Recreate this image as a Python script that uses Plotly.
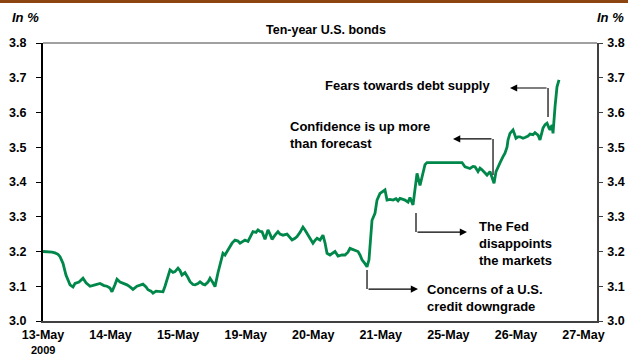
import plotly.graph_objects as go

# Trading-day index (0 = start of 13-May) and 10-year yield (%)
t = [0, 0.074, 0.133, 0.178, 0.222, 0.252, 0.296, 0.340, 0.370, 0.400, 0.444, 0.474, 0.533, 0.592,
     0.637, 0.696, 0.770, 0.844, 0.903, 0.947, 0.992, 1.021, 1.066, 1.095, 1.140, 1.169, 1.243, 1.288,
     1.332, 1.391, 1.436, 1.480, 1.525, 1.554, 1.599, 1.628, 1.673, 1.732, 1.776, 1.806, 1.835, 1.880,
     1.924, 1.954, 1.998, 2.028, 2.057, 2.102, 2.146, 2.176, 2.220, 2.250, 2.294, 2.324, 2.368, 2.398,
     2.442, 2.472, 2.516, 2.546, 2.590, 2.620, 2.664, 2.694, 2.724, 2.768, 2.798, 2.842, 2.886, 2.916,
     2.960, 2.990, 3.034, 3.064, 3.108, 3.153, 3.182, 3.212, 3.242, 3.286, 3.330, 3.360, 3.390, 3.434,
     3.478, 3.508, 3.552, 3.612, 3.656, 3.686, 3.730, 3.760, 3.804, 3.848, 3.878, 3.922, 3.952, 3.996,
     4.026, 4.056, 4.100, 4.144, 4.174, 4.204, 4.248, 4.292, 4.322, 4.367, 4.426, 4.470, 4.514, 4.544,
     4.589, 4.633, 4.663, 4.692, 4.722, 4.766, 4.796, 4.825, 4.855, 4.870, 4.914, 4.944, 4.988, 5.018,
     5.062, 5.092, 5.136, 5.181, 5.225, 5.255, 5.284, 5.329, 5.358, 5.403, 5.432, 5.477, 5.506, 5.536,
     5.580, 5.625, 5.654, 5.684, 5.876, 6.024, 6.202, 6.246, 6.291, 6.320, 6.365, 6.394, 6.439, 6.468,
     6.498, 6.542, 6.572, 6.616, 6.646, 6.676, 6.705, 6.735, 6.764, 6.809, 6.838, 6.868, 6.883, 6.912,
     6.957, 7.001, 7.031, 7.060, 7.105, 7.134, 7.179, 7.208, 7.253, 7.282, 7.327, 7.356, 7.401, 7.431,
     7.460, 7.490, 7.505, 7.534, 7.549, 7.579, 7.608, 7.638]
yld = [3.200, 3.200, 3.198, 3.196, 3.192, 3.185, 3.166, 3.132, 3.115, 3.104, 3.098, 3.108, 3.112, 3.123,
       3.110, 3.100, 3.104, 3.108, 3.102, 3.100, 3.095, 3.084, 3.105, 3.120, 3.112, 3.110, 3.104, 3.098,
       3.091, 3.100, 3.104, 3.106, 3.098, 3.090, 3.086, 3.080, 3.086, 3.084, 3.084, 3.100, 3.118, 3.147,
       3.140, 3.142, 3.152, 3.145, 3.132, 3.139, 3.125, 3.113, 3.105, 3.104, 3.108, 3.113, 3.106, 3.104,
       3.112, 3.123, 3.110, 3.099, 3.139, 3.165, 3.195, 3.190, 3.200, 3.215, 3.224, 3.233, 3.230, 3.224,
       3.230, 3.233, 3.229, 3.240, 3.257, 3.255, 3.262, 3.258, 3.257, 3.235, 3.262, 3.250, 3.235, 3.247,
       3.257, 3.250, 3.247, 3.250, 3.240, 3.233, 3.238, 3.243, 3.255, 3.270, 3.262, 3.247, 3.235, 3.224,
       3.232, 3.238, 3.233, 3.247, 3.225, 3.195, 3.190, 3.195, 3.200, 3.187, 3.190, 3.190, 3.198, 3.209,
       3.205, 3.202, 3.200, 3.190, 3.176, 3.165, 3.156, 3.176, 3.240, 3.290, 3.310, 3.348, 3.367, 3.372,
       3.377, 3.348, 3.350, 3.348, 3.352, 3.346, 3.353, 3.350, 3.348, 3.342, 3.355, 3.334, 3.386, 3.425,
       3.390, 3.425, 3.450, 3.456, 3.456, 3.456, 3.456, 3.444, 3.442, 3.439, 3.445, 3.444, 3.430, 3.440,
       3.435, 3.425, 3.420, 3.430, 3.415, 3.396, 3.430, 3.445, 3.455, 3.473, 3.483, 3.500, 3.521, 3.540,
       3.550, 3.526, 3.530, 3.530, 3.526, 3.528, 3.532, 3.538, 3.536, 3.542, 3.535, 3.521, 3.555, 3.565,
       3.569, 3.555, 3.550, 3.564, 3.540, 3.617, 3.674, 3.694]

day_labels = ["13-May", "14-May", "15-May", "19-May", "20-May",
              "21-May", "25-May", "26-May", "27-May"]
year_label = "2009"
y_ticks = [3.0, 3.1, 3.2, 3.3, 3.4, 3.5, 3.6, 3.7, 3.8]

FONT = "Liberation Sans, Arial, sans-serif"
GREEN = "#00874A"

fig = go.Figure()
fig.add_trace(go.Scatter(x=t, y=yld, mode="lines",
                         line=dict(color=GREEN, width=2.8), showlegend=False,
                         hoverinfo="skip"))
# anchor trace so the right-hand axis is drawn
fig.add_trace(go.Scatter(x=[t[0]], y=[yld[0]], yaxis="y2", mode="markers",
                         marker=dict(opacity=0), showlegend=False, hoverinfo="skip"))

tickfont = dict(family=FONT, size=12.5, color="black", weight="bold")

fig.update_layout(
    width=628, height=356,
    margin=dict(l=43, r=31, t=43, b=35),
    paper_bgcolor="white", plot_bgcolor="white",
    showlegend=False,
    xaxis=dict(range=[0, 8.2], tickvals=list(range(len(day_labels))), ticktext=day_labels,
               showgrid=False, zeroline=False, showline=True, linecolor="#404040", linewidth=1.5,
               ticks="", ticklabelstandoff=1, tickfont=tickfont, automargin=False),
    yaxis=dict(range=[3.0, 3.8], tickvals=y_ticks, tickformat=".1f",
               showgrid=False, zeroline=False, showline=True, linecolor="black", linewidth=2,
               ticks="outside", ticklen=5, tickwidth=1, tickcolor="black",
               ticklabelstandoff=7, tickfont=tickfont, automargin=False),
    yaxis2=dict(range=[3.0, 3.8], tickvals=y_ticks, tickformat=".1f", overlaying="y", side="right",
                showgrid=False, zeroline=False, showline=True, linecolor="#404040", linewidth=1.5,
                ticks="outside", ticklen=4, tickwidth=1, tickcolor="#404040",
                ticklabelstandoff=2, tickfont=tickfont, automargin=False),
)

shapes = [
    # brown band on top
    dict(type="rect", xref="paper", yref="paper", x0=-0.1, x1=1.1, y0=1.1439, y1=1.16,
         fillcolor="#8C4510", line=dict(width=0), layer="above"),
    # top frame line
    dict(type="line", xref="paper", yref="paper", x0=0, x1=1, y0=1, y1=1,
         line=dict(color="#808080", width=1.5)),
    # vertical legs of the callout arrows
    dict(type="line", xref="x", yref="y", x0=7.475, x1=7.475, y0=3.587, y1=3.6705,
         line=dict(color="black", width=1.2)),
    dict(type="line", xref="x", yref="y", x0=6.661, x1=6.661, y0=3.42, y1=3.524,
         line=dict(color="black", width=1.2)),
    dict(type="line", xref="x", yref="y", x0=5.521, x1=5.521, y0=3.311, y1=3.256,
         line=dict(color="black", width=1.2)),
    dict(type="line", xref="x", yref="y", x0=4.796, x1=4.796, y0=3.147, y1=3.092,
         line=dict(color="black", width=1.2)),
]
fig.update_layout(shapes=shapes)

afont = dict(family=FONT, size=13, color="black")
annos = [
    dict(text="<b>Ten-year U.S. bonds</b>", xref="paper", yref="paper", x=0.51, y=1.047,
         showarrow=False, font=dict(family=FONT, size=12.5, color="black"),
         xanchor="center", yanchor="middle"),
    dict(text="<b><i>In %</i></b>", xref="paper", yref="paper", x=-0.031, y=1.0935,
         showarrow=False, font=afont, xanchor="center", yanchor="middle"),
    dict(text="<b><i>In %</i></b>", xref="paper", yref="paper", x=1.025, y=1.0935,
         showarrow=False, font=afont, xanchor="center", yanchor="middle"),
    dict(text="<b>" + year_label + "</b>", xref="paper", yref="paper", x=0.0, y=-0.1295,
         showarrow=False, font=dict(family=FONT, size=11, color="black"),
         xanchor="center", yanchor="bottom", borderpad=0),
    dict(text="<b>Fears towards debt supply</b>", x=5.388, y=3.679, showarrow=False,
         font=afont, xanchor="center", yanchor="middle"),
    dict(text="<b>Confidence is up more<br>than forecast</b>", x=3.626, y=3.534, showarrow=False,
         font=afont, xanchor="left", yanchor="middle", align="left"),
    dict(text="<b>The Fed<br>disappoints<br>the markets</b>", x=6.424, y=3.222, showarrow=False,
         font=afont, xanchor="left", yanchor="middle", align="left"),
    dict(text="<b>Concerns of a U.S.<br>credit downgrade</b>", x=5.654, y=3.065, showarrow=False,
         font=afont, xanchor="left", yanchor="middle", align="left"),
]
# horizontal arrow parts (head, tail)
arrows = [((6.912, 3.6705), (7.475, 3.6705)),
          ((6.069, 3.524), (6.661, 3.524)),
          ((6.276, 3.256), (5.521, 3.256)),
          ((5.551, 3.092), (4.796, 3.092))]
for (hx, hy), (tx, ty) in arrows:
    annos.append(dict(text="", x=hx, y=hy, ax=tx, ay=ty, xref="x", yref="y", axref="x", ayref="y",
                      showarrow=True, arrowhead=2, arrowsize=1.2, arrowwidth=1.2, arrowcolor="black",
                      standoff=0, startstandoff=0))
fig.update_layout(annotations=annos)

fig.write_html("out.html")
